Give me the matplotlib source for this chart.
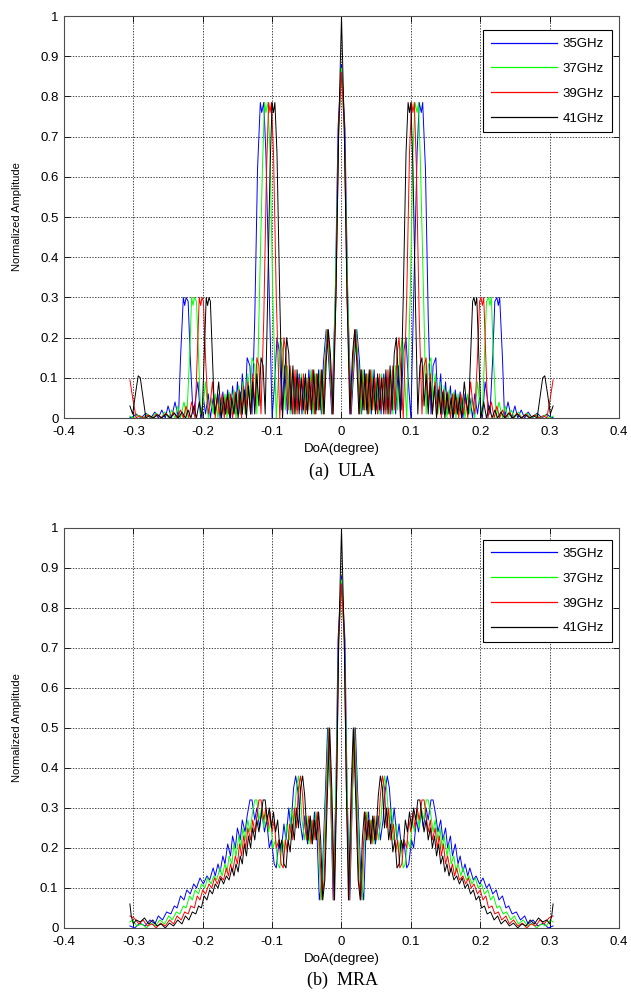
import matplotlib.pyplot as plt

# beam patterns of a ULA and a MRA at four frequencies
plt.rcParams['font.family'] = ['Liberation Sans', 'DejaVu Sans']

freq_labels = ['35GHz', '37GHz', '39GHz', '41GHz']
line_colors = ['#0000ff', '#00ff00', '#ff0000', '#000000']
x_ticks = [-0.4, -0.3, -0.2, -0.1, 0, 0.1, 0.2, 0.3, 0.4]
x_tick_labels = ['-0.4', '-0.3', '-0.2', '-0.1', '0', '0.1', '0.2', '0.3', '0.4']
y_ticks = [0, 0.1, 0.2, 0.3, 0.4, 0.5, 0.6, 0.7, 0.8, 0.9, 1]
y_tick_labels = ['0', '0.1', '0.2', '0.3', '0.4', '0.5', '0.6', '0.7', '0.8', '0.9', '1']

# ---------------- (a) ULA ----------------
ula_doa_41 = [
    -0.305, -0.301, -0.297, -0.293, -0.290, -0.286, -0.282, -0.277, -0.271, -0.265,
    -0.259, -0.253, -0.247, -0.241, -0.235, -0.230, -0.225, -0.221, -0.217, -0.213,
    -0.209, -0.205, -0.201, -0.198, -0.195, -0.193, -0.191, -0.189, -0.186, -0.183,
    -0.180, -0.177, -0.173, -0.170, -0.167, -0.164, -0.161, -0.158, -0.155, -0.152,
    -0.149, -0.146, -0.143, -0.140, -0.137, -0.134, -0.131, -0.128, -0.125, -0.122,
    -0.119, -0.116, -0.113, -0.110, -0.107, -0.103, -0.100, -0.098, -0.096, -0.093,
    -0.089, -0.085, -0.082, -0.079, -0.076, -0.073, -0.070, -0.067, -0.064, -0.061,
    -0.058, -0.055, -0.052, -0.049, -0.046, -0.043, -0.040, -0.037, -0.034, -0.031,
    -0.028, -0.025, -0.022, -0.019, -0.016, -0.012, -0.008, -0.004,
    0.000, 0.004, 0.008, 0.012, 0.016, 0.019, 0.022, 0.025, 0.028, 0.031,
    0.034, 0.037, 0.040, 0.043, 0.046, 0.049, 0.052, 0.055, 0.058, 0.061,
    0.064, 0.067, 0.070, 0.073, 0.076, 0.079, 0.082, 0.085, 0.089, 0.093,
    0.096, 0.098, 0.100, 0.103, 0.107, 0.110, 0.113, 0.116, 0.119, 0.122,
    0.125, 0.128, 0.131, 0.134, 0.137, 0.140, 0.143, 0.146, 0.149, 0.152,
    0.155, 0.158, 0.161, 0.164, 0.167, 0.170, 0.173, 0.177, 0.180, 0.183,
    0.186, 0.189, 0.191, 0.193, 0.195, 0.198, 0.201, 0.205, 0.209, 0.213,
    0.217, 0.221, 0.225, 0.230, 0.235, 0.241, 0.247, 0.253, 0.259, 0.265,
    0.271, 0.277, 0.282, 0.286, 0.290, 0.293, 0.297, 0.301, 0.305]
ula_amp_41 = [
    0.03,
    0.01, 0.06, 0.105, 0.10, 0.05, 0.00, 0.006, 0.00, 0.008, 0.00,
    0.01, 0.00, 0.012, 0.00, 0.015, 0.00, 0.02, 0.00, 0.03, 0.00,
    0.04, 0.00, 0.15, 0.30, 0.28, 0.30, 0.29, 0.15, 0.01, 0.04,
    0.09, 0.00, 0.05, 0.01, 0.06, 0.00, 0.05, 0.01, 0.06, 0.00,
    0.065, 0.01, 0.07, 0.00, 0.08, 0.01, 0.09, 0.01, 0.11, 0.03,
    0.15, 0.13, 0.01, 0.25, 0.62, 0.785, 0.76, 0.785, 0.66, 0.30,
    0.00, 0.10, 0.20, 0.16, 0.02, 0.13, 0.01, 0.12, 0.01, 0.10,
    0.02, 0.11, 0.01, 0.10, 0.02, 0.12, 0.01, 0.11, 0.02, 0.12,
    0.01, 0.14, 0.22, 0.16, 0.01, 0.30, 0.72,
    1.00, 0.72, 0.30, 0.01, 0.16, 0.22, 0.14, 0.01, 0.12, 0.02,
    0.11, 0.01, 0.12, 0.02, 0.10, 0.01, 0.11, 0.02, 0.10, 0.01,
    0.12, 0.01, 0.13, 0.02, 0.16, 0.20, 0.10, 0.00, 0.30, 0.66,
    0.785, 0.76, 0.785, 0.62, 0.25, 0.01, 0.13, 0.15, 0.03, 0.11,
    0.01, 0.09, 0.01, 0.08, 0.00, 0.07, 0.01, 0.065, 0.00, 0.06,
    0.01, 0.05, 0.00, 0.06, 0.01, 0.05, 0.00, 0.09, 0.04, 0.01,
    0.15, 0.29, 0.30, 0.28, 0.30, 0.15, 0.00, 0.04, 0.00, 0.03,
    0.00, 0.02, 0.00, 0.015, 0.00, 0.012, 0.00, 0.01, 0.00, 0.008,
    0.00, 0.006, 0.00, 0.05, 0.10, 0.105, 0.06, 0.01, 0.03]

ula_doa_39 = [
    -0.305, -0.301, -0.296, -0.291, -0.285, -0.279, -0.272, -0.266, -0.260, -0.253,
    -0.247, -0.242, -0.237, -0.232, -0.228, -0.224, -0.220, -0.216, -0.211, -0.208,
    -0.205, -0.203, -0.201, -0.199, -0.196, -0.192, -0.189, -0.186, -0.182, -0.179,
    -0.176, -0.172, -0.169, -0.166, -0.163, -0.160, -0.157, -0.153, -0.150, -0.147,
    -0.144, -0.141, -0.138, -0.135, -0.131, -0.128, -0.125, -0.122, -0.119, -0.116,
    -0.112, -0.108, -0.105, -0.103, -0.101, -0.098, -0.094, -0.089, -0.086, -0.083,
    -0.080, -0.077, -0.074, -0.070, -0.067, -0.064, -0.061, -0.058, -0.055, -0.052,
    -0.048, -0.045, -0.042, -0.039, -0.036, -0.033, -0.029, -0.026, -0.023, -0.020,
    -0.017, -0.013, -0.008, -0.004,
    0.000, 0.004, 0.008, 0.013, 0.017, 0.020, 0.023, 0.026, 0.029, 0.033,
    0.036, 0.039, 0.042, 0.045, 0.048, 0.052, 0.055, 0.058, 0.061, 0.064,
    0.067, 0.070, 0.074, 0.077, 0.080, 0.083, 0.086, 0.089, 0.094, 0.098,
    0.101, 0.103, 0.105, 0.108, 0.112, 0.116, 0.119, 0.122, 0.125, 0.128,
    0.131, 0.135, 0.138, 0.141, 0.144, 0.147, 0.150, 0.153, 0.157, 0.160,
    0.163, 0.166, 0.169, 0.172, 0.176, 0.179, 0.182, 0.186, 0.189, 0.192,
    0.196, 0.199, 0.201, 0.203, 0.205, 0.208, 0.211, 0.216, 0.220, 0.224,
    0.228, 0.232, 0.237, 0.242, 0.247, 0.253, 0.260, 0.266, 0.272, 0.279,
    0.285, 0.291, 0.296, 0.301, 0.305]
ula_amp_39 = [
    0.095,
    0.05, 0.00, 0.006, 0.00, 0.008, 0.00,
    0.01, 0.00, 0.012, 0.00, 0.015, 0.00, 0.02, 0.00, 0.03, 0.00,
    0.04, 0.00, 0.15, 0.30, 0.28, 0.30, 0.29, 0.15, 0.01, 0.04,
    0.09, 0.00, 0.05, 0.01, 0.06, 0.00, 0.05, 0.01, 0.06, 0.00,
    0.065, 0.01, 0.07, 0.00, 0.08, 0.01, 0.09, 0.01, 0.11, 0.03,
    0.15, 0.13, 0.01, 0.25, 0.62, 0.785, 0.76, 0.785, 0.66, 0.30,
    0.00, 0.10, 0.20, 0.16, 0.02, 0.13, 0.01, 0.12, 0.01, 0.10,
    0.02, 0.11, 0.01, 0.10, 0.02, 0.12, 0.01, 0.11, 0.02, 0.12,
    0.01, 0.14, 0.22, 0.16, 0.01, 0.30, 0.72,
    0.86, 0.72, 0.30, 0.01, 0.16, 0.22, 0.14, 0.01, 0.12, 0.02,
    0.11, 0.01, 0.12, 0.02, 0.10, 0.01, 0.11, 0.02, 0.10, 0.01,
    0.12, 0.01, 0.13, 0.02, 0.16, 0.20, 0.10, 0.00, 0.30, 0.66,
    0.785, 0.76, 0.785, 0.62, 0.25, 0.01, 0.13, 0.15, 0.03, 0.11,
    0.01, 0.09, 0.01, 0.08, 0.00, 0.07, 0.01, 0.065, 0.00, 0.06,
    0.01, 0.05, 0.00, 0.06, 0.01, 0.05, 0.00, 0.09, 0.04, 0.01,
    0.15, 0.29, 0.30, 0.28, 0.30, 0.15, 0.00, 0.04, 0.00, 0.03,
    0.00, 0.02, 0.00, 0.015, 0.00, 0.012, 0.00, 0.01, 0.00, 0.008,
    0.00, 0.006, 0.00, 0.05, 0.095]

ula_doa_37 = [
    -0.305, -0.300, -0.294, -0.287, -0.280, -0.274, -0.267, -0.260, -0.255, -0.249,
    -0.245, -0.240, -0.236, -0.232, -0.227, -0.223, -0.219, -0.216, -0.214, -0.212,
    -0.209, -0.206, -0.203, -0.199, -0.196, -0.192, -0.188, -0.185, -0.182, -0.178,
    -0.175, -0.172, -0.168, -0.165, -0.162, -0.158, -0.155, -0.152, -0.148, -0.145,
    -0.142, -0.139, -0.135, -0.132, -0.129, -0.125, -0.122, -0.119, -0.114, -0.111,
    -0.109, -0.106, -0.103, -0.099, -0.094, -0.091, -0.088, -0.084, -0.081, -0.078,
    -0.074, -0.071, -0.068, -0.064, -0.061, -0.058, -0.054, -0.051, -0.048, -0.044,
    -0.041, -0.038, -0.034, -0.031, -0.028, -0.024, -0.021, -0.018, -0.013, -0.009,
    -0.004,
    0.000, 0.004, 0.009, 0.013, 0.018, 0.021, 0.024, 0.028, 0.031, 0.034,
    0.038, 0.041, 0.044, 0.048, 0.051, 0.054, 0.058, 0.061, 0.064, 0.068,
    0.071, 0.074, 0.078, 0.081, 0.084, 0.088, 0.091, 0.094, 0.099, 0.103,
    0.106, 0.109, 0.111, 0.114, 0.119, 0.122, 0.125, 0.129, 0.132, 0.135,
    0.139, 0.142, 0.145, 0.148, 0.152, 0.155, 0.158, 0.162, 0.165, 0.168,
    0.172, 0.175, 0.178, 0.182, 0.185, 0.188, 0.192, 0.196, 0.199, 0.203,
    0.206, 0.209, 0.212, 0.214, 0.216, 0.219, 0.223, 0.227, 0.232, 0.236,
    0.240, 0.245, 0.249, 0.255, 0.260, 0.267, 0.274, 0.280, 0.287, 0.294,
    0.300, 0.305]
ula_amp_37 = [
    0.005,
    0.00, 0.008, 0.00,
    0.01, 0.00, 0.012, 0.00, 0.015, 0.00, 0.02, 0.00, 0.03, 0.00,
    0.04, 0.00, 0.15, 0.30, 0.28, 0.30, 0.29, 0.15, 0.01, 0.04,
    0.09, 0.00, 0.05, 0.01, 0.06, 0.00, 0.05, 0.01, 0.06, 0.00,
    0.065, 0.01, 0.07, 0.00, 0.08, 0.01, 0.09, 0.01, 0.11, 0.03,
    0.15, 0.13, 0.01, 0.25, 0.62, 0.785, 0.76, 0.785, 0.66, 0.30,
    0.00, 0.10, 0.20, 0.16, 0.02, 0.13, 0.01, 0.12, 0.01, 0.10,
    0.02, 0.11, 0.01, 0.10, 0.02, 0.12, 0.01, 0.11, 0.02, 0.12,
    0.01, 0.14, 0.22, 0.16, 0.01, 0.30, 0.72,
    0.87, 0.72, 0.30, 0.01, 0.16, 0.22, 0.14, 0.01, 0.12, 0.02,
    0.11, 0.01, 0.12, 0.02, 0.10, 0.01, 0.11, 0.02, 0.10, 0.01,
    0.12, 0.01, 0.13, 0.02, 0.16, 0.20, 0.10, 0.00, 0.30, 0.66,
    0.785, 0.76, 0.785, 0.62, 0.25, 0.01, 0.13, 0.15, 0.03, 0.11,
    0.01, 0.09, 0.01, 0.08, 0.00, 0.07, 0.01, 0.065, 0.00, 0.06,
    0.01, 0.05, 0.00, 0.06, 0.01, 0.05, 0.00, 0.09, 0.04, 0.01,
    0.15, 0.29, 0.30, 0.28, 0.30, 0.15, 0.00, 0.04, 0.00, 0.03,
    0.00, 0.02, 0.00, 0.015, 0.00, 0.012, 0.00, 0.01, 0.00, 0.008,
    0.00, 0.005]

ula_doa_35 = [
    -0.305, -0.303, -0.296, -0.289, -0.282, -0.275, -0.269, -0.264, -0.259, -0.254,
    -0.250, -0.245, -0.240, -0.235, -0.232, -0.228, -0.226, -0.224, -0.221, -0.218,
    -0.214, -0.211, -0.207, -0.203, -0.199, -0.196, -0.192, -0.189, -0.185, -0.182,
    -0.178, -0.175, -0.171, -0.168, -0.164, -0.160, -0.157, -0.153, -0.150, -0.146,
    -0.143, -0.139, -0.136, -0.132, -0.129, -0.125, -0.121, -0.117, -0.115, -0.112,
    -0.109, -0.104, -0.100, -0.096, -0.093, -0.089, -0.086, -0.082, -0.078, -0.075,
    -0.071, -0.068, -0.064, -0.061, -0.057, -0.054, -0.050, -0.047, -0.043, -0.040,
    -0.036, -0.033, -0.029, -0.026, -0.022, -0.019, -0.014, -0.009, -0.005,
    0.000, 0.005, 0.009, 0.014, 0.019, 0.022, 0.026, 0.029, 0.033, 0.036,
    0.040, 0.043, 0.047, 0.050, 0.054, 0.057, 0.061, 0.064, 0.068, 0.071,
    0.075, 0.078, 0.082, 0.086, 0.089, 0.093, 0.096, 0.100, 0.104, 0.109,
    0.112, 0.115, 0.117, 0.121, 0.125, 0.129, 0.132, 0.136, 0.139, 0.143,
    0.146, 0.150, 0.153, 0.157, 0.160, 0.164, 0.168, 0.171, 0.175, 0.178,
    0.182, 0.185, 0.189, 0.192, 0.196, 0.199, 0.203, 0.207, 0.211, 0.214,
    0.218, 0.221, 0.224, 0.226, 0.228, 0.232, 0.235, 0.240, 0.245, 0.250,
    0.254, 0.259, 0.264, 0.269, 0.275, 0.282, 0.289, 0.296, 0.303, 0.305]
ula_amp_35 = [
    0.002,
    0.00,
    0.01, 0.00, 0.012, 0.00, 0.015, 0.00, 0.02, 0.00, 0.03, 0.00,
    0.04, 0.00, 0.15, 0.30, 0.28, 0.30, 0.29, 0.15, 0.01, 0.04,
    0.09, 0.00, 0.05, 0.01, 0.06, 0.00, 0.05, 0.01, 0.06, 0.00,
    0.065, 0.01, 0.07, 0.00, 0.08, 0.01, 0.09, 0.01, 0.11, 0.03,
    0.15, 0.13, 0.01, 0.25, 0.62, 0.785, 0.76, 0.785, 0.66, 0.30,
    0.00, 0.10, 0.20, 0.16, 0.02, 0.13, 0.01, 0.12, 0.01, 0.10,
    0.02, 0.11, 0.01, 0.10, 0.02, 0.12, 0.01, 0.11, 0.02, 0.12,
    0.01, 0.14, 0.22, 0.16, 0.01, 0.30, 0.72,
    0.88, 0.72, 0.30, 0.01, 0.16, 0.22, 0.14, 0.01, 0.12, 0.02,
    0.11, 0.01, 0.12, 0.02, 0.10, 0.01, 0.11, 0.02, 0.10, 0.01,
    0.12, 0.01, 0.13, 0.02, 0.16, 0.20, 0.10, 0.00, 0.30, 0.66,
    0.785, 0.76, 0.785, 0.62, 0.25, 0.01, 0.13, 0.15, 0.03, 0.11,
    0.01, 0.09, 0.01, 0.08, 0.00, 0.07, 0.01, 0.065, 0.00, 0.06,
    0.01, 0.05, 0.00, 0.06, 0.01, 0.05, 0.00, 0.09, 0.04, 0.01,
    0.15, 0.29, 0.30, 0.28, 0.30, 0.15, 0.00, 0.04, 0.00, 0.03,
    0.00, 0.02, 0.00, 0.015, 0.00, 0.012, 0.00, 0.01, 0.00, 0.002]

# ---------------- (b) MRA ----------------
mra_doa_41 = [
    -0.305, -0.303, -0.300, -0.296, -0.290, -0.284, -0.278, -0.272, -0.266, -0.260,
    -0.254, -0.248, -0.242, -0.236, -0.230, -0.225, -0.220, -0.215, -0.210, -0.206,
    -0.202, -0.198, -0.194, -0.190, -0.186, -0.182, -0.178, -0.174, -0.170, -0.166,
    -0.162, -0.158, -0.155, -0.152, -0.149, -0.146, -0.143, -0.140, -0.137, -0.134,
    -0.131, -0.128, -0.125, -0.122, -0.119, -0.116, -0.113, -0.110, -0.107, -0.104,
    -0.101, -0.098, -0.095, -0.092, -0.089, -0.086, -0.083, -0.080, -0.077, -0.074,
    -0.071, -0.068, -0.065, -0.062, -0.059, -0.056, -0.053, -0.051, -0.048, -0.045,
    -0.042, -0.039, -0.036, -0.033, -0.030, -0.027, -0.024, -0.020, -0.017, -0.014,
    -0.010, -0.007, -0.004,
    0.000, 0.004, 0.007, 0.010, 0.014, 0.017, 0.020, 0.024, 0.027, 0.030,
    0.033, 0.036, 0.039, 0.042, 0.045, 0.048, 0.051, 0.053, 0.056, 0.059,
    0.062, 0.065, 0.068, 0.071, 0.074, 0.077, 0.080, 0.083, 0.086, 0.089,
    0.092, 0.095, 0.098, 0.101, 0.104, 0.107, 0.110, 0.113, 0.116, 0.119,
    0.122, 0.125, 0.128, 0.131, 0.134, 0.137, 0.140, 0.143, 0.146, 0.149,
    0.152, 0.155, 0.158, 0.162, 0.166, 0.170, 0.174, 0.178, 0.182, 0.186,
    0.190, 0.194, 0.198, 0.202, 0.206, 0.210, 0.215, 0.220, 0.225, 0.230,
    0.236, 0.242, 0.248, 0.254, 0.260, 0.266, 0.272, 0.278, 0.284, 0.290,
    0.296, 0.300, 0.303, 0.305]
mra_amp_41 = [
    0.06,
    0.03, 0.01, 0.02, 0.015, 0.025, 0.01, 0.02, 0.005, 0.01, 0.00,
    0.012, 0.005, 0.02, 0.01, 0.03, 0.02, 0.04, 0.035, 0.055, 0.05,
    0.08, 0.07, 0.095, 0.085, 0.11, 0.10, 0.125, 0.11, 0.13, 0.12,
    0.15, 0.13, 0.16, 0.14, 0.18, 0.16, 0.21, 0.18, 0.23, 0.20,
    0.25, 0.22, 0.27, 0.24, 0.28, 0.32, 0.32, 0.27, 0.30, 0.25,
    0.29, 0.24, 0.27, 0.20, 0.22, 0.16, 0.15, 0.22, 0.19, 0.26,
    0.22, 0.30, 0.25, 0.35, 0.38, 0.33, 0.27, 0.22, 0.28, 0.21,
    0.27, 0.22, 0.29, 0.22, 0.07, 0.12, 0.35, 0.50, 0.35, 0.07,
    0.35, 0.72,
    1.00, 0.72, 0.35, 0.07, 0.35, 0.50, 0.35, 0.12, 0.07, 0.22,
    0.29, 0.22, 0.27, 0.21, 0.28, 0.22, 0.27, 0.33, 0.38, 0.35,
    0.25, 0.30, 0.22, 0.26, 0.19, 0.22, 0.15, 0.16, 0.22, 0.20,
    0.27, 0.24, 0.29, 0.25, 0.30, 0.27, 0.32, 0.32, 0.28, 0.24,
    0.27, 0.22, 0.25, 0.20, 0.23, 0.18, 0.21, 0.16, 0.18, 0.14,
    0.16, 0.13, 0.15, 0.12, 0.13, 0.11, 0.125, 0.10, 0.11, 0.085,
    0.095, 0.07, 0.08, 0.05, 0.055, 0.035, 0.04, 0.02, 0.03, 0.01,
    0.02, 0.005, 0.012, 0.00, 0.01, 0.005, 0.02, 0.01, 0.025, 0.015,
    0.02, 0.01, 0.03, 0.06]

mra_doa_39 = [
    -0.305, -0.299, -0.292, -0.286, -0.280, -0.273, -0.267, -0.261, -0.254, -0.248,
    -0.242, -0.237, -0.231, -0.226, -0.221, -0.217, -0.212, -0.208, -0.204, -0.200,
    -0.196, -0.191, -0.187, -0.183, -0.179, -0.175, -0.170, -0.166, -0.163, -0.160,
    -0.157, -0.153, -0.150, -0.147, -0.144, -0.141, -0.138, -0.135, -0.131, -0.128,
    -0.125, -0.122, -0.119, -0.116, -0.112, -0.109, -0.106, -0.103, -0.100, -0.097,
    -0.094, -0.090, -0.087, -0.084, -0.081, -0.078, -0.075, -0.071, -0.068, -0.065,
    -0.062, -0.059, -0.056, -0.054, -0.050, -0.047, -0.044, -0.041, -0.038, -0.035,
    -0.032, -0.028, -0.025, -0.021, -0.018, -0.015, -0.011, -0.007, -0.004,
    0.000, 0.004, 0.007, 0.011, 0.015, 0.018, 0.021, 0.025, 0.028, 0.032,
    0.035, 0.038, 0.041, 0.044, 0.047, 0.050, 0.054, 0.056, 0.059, 0.062,
    0.065, 0.068, 0.071, 0.075, 0.078, 0.081, 0.084, 0.087, 0.090, 0.094,
    0.097, 0.100, 0.103, 0.106, 0.109, 0.112, 0.116, 0.119, 0.122, 0.125,
    0.128, 0.131, 0.135, 0.138, 0.141, 0.144, 0.147, 0.150, 0.153, 0.157,
    0.160, 0.163, 0.166, 0.170, 0.175, 0.179, 0.183, 0.187, 0.191, 0.196,
    0.200, 0.204, 0.208, 0.212, 0.217, 0.221, 0.226, 0.231, 0.237, 0.242,
    0.248, 0.254, 0.261, 0.267, 0.273, 0.280, 0.286, 0.292, 0.299, 0.305]
mra_amp_39 = [
    0.03,
    0.025, 0.01, 0.02, 0.005, 0.01, 0.00,
    0.012, 0.005, 0.02, 0.01, 0.03, 0.02, 0.04, 0.035, 0.055, 0.05,
    0.08, 0.07, 0.095, 0.085, 0.11, 0.10, 0.125, 0.11, 0.13, 0.12,
    0.15, 0.13, 0.16, 0.14, 0.18, 0.16, 0.21, 0.18, 0.23, 0.20,
    0.25, 0.22, 0.27, 0.24, 0.28, 0.32, 0.32, 0.27, 0.30, 0.25,
    0.29, 0.24, 0.27, 0.20, 0.22, 0.16, 0.15, 0.22, 0.19, 0.26,
    0.22, 0.30, 0.25, 0.35, 0.38, 0.33, 0.27, 0.22, 0.28, 0.21,
    0.27, 0.22, 0.29, 0.22, 0.07, 0.12, 0.35, 0.50, 0.35, 0.07,
    0.35, 0.72,
    0.86, 0.72, 0.35, 0.07, 0.35, 0.50, 0.35, 0.12, 0.07, 0.22,
    0.29, 0.22, 0.27, 0.21, 0.28, 0.22, 0.27, 0.33, 0.38, 0.35,
    0.25, 0.30, 0.22, 0.26, 0.19, 0.22, 0.15, 0.16, 0.22, 0.20,
    0.27, 0.24, 0.29, 0.25, 0.30, 0.27, 0.32, 0.32, 0.28, 0.24,
    0.27, 0.22, 0.25, 0.20, 0.23, 0.18, 0.21, 0.16, 0.18, 0.14,
    0.16, 0.13, 0.15, 0.12, 0.13, 0.11, 0.125, 0.10, 0.11, 0.085,
    0.095, 0.07, 0.08, 0.05, 0.055, 0.035, 0.04, 0.02, 0.03, 0.01,
    0.02, 0.005, 0.012, 0.00, 0.01, 0.005, 0.02, 0.01, 0.025, 0.03]

mra_doa_37 = [
    -0.305, -0.301, -0.295, -0.288, -0.281, -0.275, -0.268, -0.262, -0.255, -0.249,
    -0.244, -0.238, -0.233, -0.228, -0.224, -0.219, -0.215, -0.211, -0.206, -0.202,
    -0.197, -0.193, -0.188, -0.184, -0.180, -0.175, -0.172, -0.168, -0.165, -0.162,
    -0.158, -0.155, -0.152, -0.148, -0.145, -0.142, -0.139, -0.135, -0.132, -0.129,
    -0.125, -0.122, -0.119, -0.115, -0.112, -0.109, -0.105, -0.102, -0.099, -0.095,
    -0.092, -0.089, -0.085, -0.082, -0.079, -0.075, -0.072, -0.069, -0.065, -0.062,
    -0.059, -0.057, -0.053, -0.050, -0.047, -0.043, -0.040, -0.037, -0.033, -0.030,
    -0.027, -0.022, -0.019, -0.016, -0.011, -0.008, -0.004,
    0.000, 0.004, 0.008, 0.011, 0.016, 0.019, 0.022, 0.027, 0.030, 0.033,
    0.037, 0.040, 0.043, 0.047, 0.050, 0.053, 0.057, 0.059, 0.062, 0.065,
    0.069, 0.072, 0.075, 0.079, 0.082, 0.085, 0.089, 0.092, 0.095, 0.099,
    0.102, 0.105, 0.109, 0.112, 0.115, 0.119, 0.122, 0.125, 0.129, 0.132,
    0.135, 0.139, 0.142, 0.145, 0.148, 0.152, 0.155, 0.158, 0.162, 0.165,
    0.168, 0.172, 0.175, 0.180, 0.184, 0.188, 0.193, 0.197, 0.202, 0.206,
    0.211, 0.215, 0.219, 0.224, 0.228, 0.233, 0.238, 0.244, 0.249, 0.255,
    0.262, 0.268, 0.275, 0.281, 0.288, 0.295, 0.301, 0.305]
mra_amp_37 = [
    0.015,
    0.02, 0.005, 0.01, 0.00,
    0.012, 0.005, 0.02, 0.01, 0.03, 0.02, 0.04, 0.035, 0.055, 0.05,
    0.08, 0.07, 0.095, 0.085, 0.11, 0.10, 0.125, 0.11, 0.13, 0.12,
    0.15, 0.13, 0.16, 0.14, 0.18, 0.16, 0.21, 0.18, 0.23, 0.20,
    0.25, 0.22, 0.27, 0.24, 0.28, 0.32, 0.32, 0.27, 0.30, 0.25,
    0.29, 0.24, 0.27, 0.20, 0.22, 0.16, 0.15, 0.22, 0.19, 0.26,
    0.22, 0.30, 0.25, 0.35, 0.38, 0.33, 0.27, 0.22, 0.28, 0.21,
    0.27, 0.22, 0.29, 0.22, 0.07, 0.12, 0.35, 0.50, 0.35, 0.07,
    0.35, 0.72,
    0.87, 0.72, 0.35, 0.07, 0.35, 0.50, 0.35, 0.12, 0.07, 0.22,
    0.29, 0.22, 0.27, 0.21, 0.28, 0.22, 0.27, 0.33, 0.38, 0.35,
    0.25, 0.30, 0.22, 0.26, 0.19, 0.22, 0.15, 0.16, 0.22, 0.20,
    0.27, 0.24, 0.29, 0.25, 0.30, 0.27, 0.32, 0.32, 0.28, 0.24,
    0.27, 0.22, 0.25, 0.20, 0.23, 0.18, 0.21, 0.16, 0.18, 0.14,
    0.16, 0.13, 0.15, 0.12, 0.13, 0.11, 0.125, 0.10, 0.11, 0.085,
    0.095, 0.07, 0.08, 0.05, 0.055, 0.035, 0.04, 0.02, 0.03, 0.01,
    0.02, 0.005, 0.012, 0.00, 0.01, 0.005, 0.02, 0.015]

mra_doa_35 = [
    -0.305, -0.298, -0.291, -0.283, -0.276, -0.269, -0.264, -0.258, -0.252, -0.246,
    -0.241, -0.237, -0.232, -0.227, -0.223, -0.218, -0.213, -0.209, -0.204, -0.199,
    -0.194, -0.190, -0.185, -0.182, -0.178, -0.175, -0.171, -0.168, -0.164, -0.160,
    -0.157, -0.153, -0.150, -0.146, -0.143, -0.139, -0.136, -0.132, -0.129, -0.125,
    -0.122, -0.118, -0.115, -0.111, -0.108, -0.104, -0.101, -0.097, -0.094, -0.090,
    -0.087, -0.083, -0.080, -0.076, -0.073, -0.069, -0.066, -0.062, -0.060, -0.056,
    -0.053, -0.049, -0.046, -0.042, -0.039, -0.035, -0.032, -0.028, -0.023, -0.020,
    -0.016, -0.012, -0.008, -0.005,
    0.000, 0.005, 0.008, 0.012, 0.016, 0.020, 0.023, 0.028, 0.032, 0.035,
    0.039, 0.042, 0.046, 0.049, 0.053, 0.056, 0.060, 0.062, 0.066, 0.069,
    0.073, 0.076, 0.080, 0.083, 0.087, 0.090, 0.094, 0.097, 0.101, 0.104,
    0.108, 0.111, 0.115, 0.118, 0.122, 0.125, 0.129, 0.132, 0.136, 0.139,
    0.143, 0.146, 0.150, 0.153, 0.157, 0.160, 0.164, 0.168, 0.171, 0.175,
    0.178, 0.182, 0.185, 0.190, 0.194, 0.199, 0.204, 0.209, 0.213, 0.218,
    0.223, 0.227, 0.232, 0.237, 0.241, 0.246, 0.252, 0.258, 0.264, 0.269,
    0.276, 0.283, 0.291, 0.298, 0.305]
mra_amp_35 = [
    0.005,
    0.00,
    0.012, 0.005, 0.02, 0.01, 0.03, 0.02, 0.04, 0.035, 0.055, 0.05,
    0.08, 0.07, 0.095, 0.085, 0.11, 0.10, 0.125, 0.11, 0.13, 0.12,
    0.15, 0.13, 0.16, 0.14, 0.18, 0.16, 0.21, 0.18, 0.23, 0.20,
    0.25, 0.22, 0.27, 0.24, 0.28, 0.32, 0.32, 0.27, 0.30, 0.25,
    0.29, 0.24, 0.27, 0.20, 0.22, 0.16, 0.15, 0.22, 0.19, 0.26,
    0.22, 0.30, 0.25, 0.35, 0.38, 0.33, 0.27, 0.22, 0.28, 0.21,
    0.27, 0.22, 0.29, 0.22, 0.07, 0.12, 0.35, 0.50, 0.35, 0.07,
    0.35, 0.72,
    0.88, 0.72, 0.35, 0.07, 0.35, 0.50, 0.35, 0.12, 0.07, 0.22,
    0.29, 0.22, 0.27, 0.21, 0.28, 0.22, 0.27, 0.33, 0.38, 0.35,
    0.25, 0.30, 0.22, 0.26, 0.19, 0.22, 0.15, 0.16, 0.22, 0.20,
    0.27, 0.24, 0.29, 0.25, 0.30, 0.27, 0.32, 0.32, 0.28, 0.24,
    0.27, 0.22, 0.25, 0.20, 0.23, 0.18, 0.21, 0.16, 0.18, 0.14,
    0.16, 0.13, 0.15, 0.12, 0.13, 0.11, 0.125, 0.10, 0.11, 0.085,
    0.095, 0.07, 0.08, 0.05, 0.055, 0.035, 0.04, 0.02, 0.03, 0.01,
    0.02, 0.005, 0.012, 0.00, 0.005]

ula_doas = [ula_doa_35, ula_doa_37, ula_doa_39, ula_doa_41]
ula_amps = [ula_amp_35, ula_amp_37, ula_amp_39, ula_amp_41]
mra_doas = [mra_doa_35, mra_doa_37, mra_doa_39, mra_doa_41]
mra_amps = [mra_amp_35, mra_amp_37, mra_amp_39, mra_amp_41]


def draw_panel(ax, doas, amps, legend_top):
    for doa, amp, lab, col in zip(doas, amps, freq_labels, line_colors):
        ax.plot(doa, amp, color=col, lw=0.7, label=lab)
    ax.set_xlim(-0.4, 0.4)
    ax.set_ylim(0, 1)
    ax.set_xticks(x_ticks)
    ax.set_xticklabels(x_tick_labels)
    ax.set_yticks(y_ticks)
    ax.set_yticklabels(y_tick_labels)
    ax.tick_params(direction='in', top=True, right=True, length=4, width=0.6,
                   labelsize=9.5)
    ax.tick_params(axis='x', pad=6)
    ax.tick_params(axis='y', pad=4)
    ax.grid(True, color='k', linestyle=(0, (2, 2)), linewidth=0.5)
    for s in ax.spines.values():
        s.set_linewidth(0.8)
        s.set_color('0.3')
    ax.set_xlabel('DoA(degree)', fontsize=9.5)
    ax.xaxis.set_label_coords(0.5, -0.062)
    ax.set_ylabel('Normalized Amplitude', fontsize=8)
    ax.yaxis.set_label_coords(-0.076, 0.5)
    leg = ax.legend(loc='upper right', bbox_to_anchor=(0.987, legend_top),
                    fontsize=9.5, handlelength=5.0, handletextpad=0.4,
                    labelspacing=0.95, borderpad=0.6, borderaxespad=0,
                    fancybox=False, framealpha=1)
    leg.get_frame().set_edgecolor('k')
    leg.get_frame().set_linewidth(0.8)
    for h in leg.get_lines():
        h.set_linewidth(0.9)


fig = plt.figure(figsize=(6.31, 10.02), dpi=100)
ax1 = fig.add_axes([0.1014, 0.5828, 0.8796, 0.4012])
ax2 = fig.add_axes([0.1014, 0.0739, 0.8796, 0.3992])

draw_panel(ax1, ula_doas, ula_amps, 0.965)
draw_panel(ax2, mra_doas, mra_amps, 0.97)

fig.text(0.542, 0.530, '(a)  ULA', family='Liberation Serif', fontsize=13,
         ha='center', va='center')
fig.text(0.542, 0.022, '(b)  MRA', family='Liberation Serif', fontsize=13,
         ha='center', va='center')

plt.savefig('out.png', dpi=100)
